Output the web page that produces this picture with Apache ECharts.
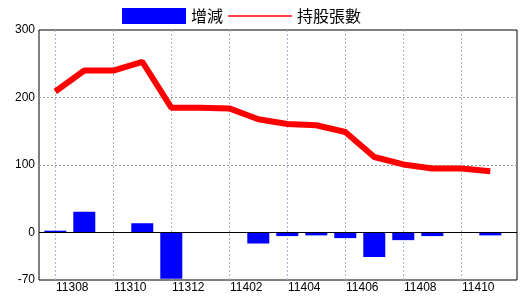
<!DOCTYPE html>
<html><head><meta charset="utf-8">
<script src="https://cdn.jsdelivr.net/npm/echarts@6/dist/echarts.min.js"></script>
<style>html,body{margin:0;padding:0;background:#fff}#c{width:520px;height:300px}</style>
</head><body><div id="c"></div>
<script>
const categories = ['11307','11308','11309','11310','11311','11312','11401','11402','11403','11404','11405','11406','11407','11408','11409','11410'];
const changes = [3, 31, 0, 14, -68, 0, 0, -16, -5, -4, -8, -36, -11, -5, 0, -4];
const holdings = [209, 240, 240, 253, 185, 185, 184, 168, 161, 159, 149, 112, 101, 95, 95, 91];
const yTicks = [-70, 0, 100, 200, 300];
const yGridValues = [100, 200];
const seriesNames = ['增減', '持股張數'];

const idx = categories.map((c, i) => i);
const labelIdx = idx.filter(i => i % 2 === 1);
const vGridIdx = idx.filter(i => i % 2 === 0);
const labelFont = "'Liberation Sans Narrow', 'Arial Narrow', 'Liberation Sans', sans-serif";

const chart = echarts.init(document.getElementById('c'), null, {renderer: 'canvas'});
chart.setOption({
  animation: false,
  backgroundColor: '#fff',
  legend: {
    left: 122, top: 8, padding: 0,
    itemWidth: 64, itemHeight: 16, itemGap: 5,
    textStyle: {fontFamily: "'Noto Sans CJK TC', sans-serif", fontSize: 16, color: '#000'},
    itemStyle: {borderWidth: 0},
    data: [
      {name: seriesNames[0], icon: 'rect'},
      {name: seriesNames[1], icon: 'path://M0,0L64,0L64,1.3L0,1.3Z'}
    ]
  },
  grid: {left: 39, right: 3, top: 30, bottom: 20, show: true, borderColor: '#000', borderWidth: 1, containLabel: false},
  xAxis: {
    type: 'value', min: -0.562, max: 15.921,
    axisLine: {show: false}, axisTick: {show: false}, splitLine: {show: false},
    axisLabel: {
      customValues: labelIdx,
      formatter: v => categories[Math.round(v)] || '',
      fontFamily: labelFont, fontSize: 12, color: '#000', margin: 2,
      padding: [0, 24, 0, 0]
    }
  },
  yAxis: {
    type: 'value', min: -70, max: 300,
    axisLine: {show: false}, axisTick: {show: false}, splitLine: {show: false},
    axisLabel: {customValues: yTicks, fontFamily: labelFont, fontSize: 12, color: '#000', margin: 4}
  },
  series: [
    {
      name: seriesNames[0], type: 'bar', barWidth: 22,
      itemStyle: {color: '#0000ff'},
      data: changes.map((v, i) => [i, v]),
      markLine: {
        silent: true, symbol: 'none', z: 1, animation: false,
        label: {show: false},
        data: [
          ...yGridValues.map(v => ({yAxis: v, lineStyle: {color: '#a0a0a0', type: [2, 2], width: 1}})),
          ...vGridIdx.map(i => ({xAxis: i, lineStyle: {color: '#a8b8c8', type: [2, 2], width: 1}}))
        ]
      }
    },
    {
      name: seriesNames[1], type: 'line', symbol: 'none', showSymbol: false,
      lineStyle: {color: '#ff0000', width: 6},
      itemStyle: {color: '#ff0000'},
      data: holdings.map((v, i) => [i, v]),
      markLine: {
        silent: true, symbol: 'none', animation: false,
        label: {show: false},
        data: [{yAxis: 0, lineStyle: {color: '#000', type: 'solid', width: 1}}]
      }
    }
  ]
});
</script></body></html>
